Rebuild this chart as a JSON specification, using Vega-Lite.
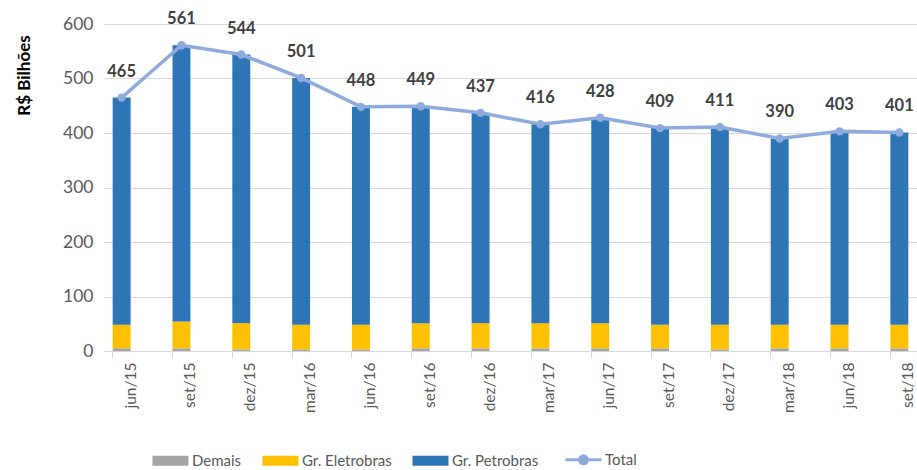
{
  "$schema": "https://vega.github.io/schema/vega-lite/v6.json",
  "width": 813,
  "height": 327,
  "autosize": {"type": "none"},
  "padding": {"left": 104, "top": 24, "right": 0, "bottom": 119},
  "config": {
    "view": {"stroke": null},
    "font": "Lato",
    "axis": {"labelFont": "Lato", "titleFont": "Lato"}
  },
  "datasets": {
    "barras": [
      {"mes": "jun/15", "serie": "Demais", "valor": 5},
      {"mes": "jun/15", "serie": "Gr. Eletrobras", "valor": 43},
      {"mes": "jun/15", "serie": "Gr. Petrobras", "valor": 417},
      {"mes": "set/15", "serie": "Demais", "valor": 5},
      {"mes": "set/15", "serie": "Gr. Eletrobras", "valor": 49},
      {"mes": "set/15", "serie": "Gr. Petrobras", "valor": 507},
      {"mes": "dez/15", "serie": "Demais", "valor": 3},
      {"mes": "dez/15", "serie": "Gr. Eletrobras", "valor": 48},
      {"mes": "dez/15", "serie": "Gr. Petrobras", "valor": 493},
      {"mes": "mar/16", "serie": "Demais", "valor": 3},
      {"mes": "mar/16", "serie": "Gr. Eletrobras", "valor": 45},
      {"mes": "mar/16", "serie": "Gr. Petrobras", "valor": 453},
      {"mes": "jun/16", "serie": "Demais", "valor": 3},
      {"mes": "jun/16", "serie": "Gr. Eletrobras", "valor": 45},
      {"mes": "jun/16", "serie": "Gr. Petrobras", "valor": 400},
      {"mes": "set/16", "serie": "Demais", "valor": 5},
      {"mes": "set/16", "serie": "Gr. Eletrobras", "valor": 46},
      {"mes": "set/16", "serie": "Gr. Petrobras", "valor": 398},
      {"mes": "dez/16", "serie": "Demais", "valor": 5},
      {"mes": "dez/16", "serie": "Gr. Eletrobras", "valor": 46},
      {"mes": "dez/16", "serie": "Gr. Petrobras", "valor": 386},
      {"mes": "mar/17", "serie": "Demais", "valor": 5},
      {"mes": "mar/17", "serie": "Gr. Eletrobras", "valor": 46},
      {"mes": "mar/17", "serie": "Gr. Petrobras", "valor": 365},
      {"mes": "jun/17", "serie": "Demais", "valor": 5},
      {"mes": "jun/17", "serie": "Gr. Eletrobras", "valor": 46},
      {"mes": "jun/17", "serie": "Gr. Petrobras", "valor": 377},
      {"mes": "set/17", "serie": "Demais", "valor": 5},
      {"mes": "set/17", "serie": "Gr. Eletrobras", "valor": 43},
      {"mes": "set/17", "serie": "Gr. Petrobras", "valor": 361},
      {"mes": "dez/17", "serie": "Demais", "valor": 3},
      {"mes": "dez/17", "serie": "Gr. Eletrobras", "valor": 45},
      {"mes": "dez/17", "serie": "Gr. Petrobras", "valor": 363},
      {"mes": "mar/18", "serie": "Demais", "valor": 5},
      {"mes": "mar/18", "serie": "Gr. Eletrobras", "valor": 43},
      {"mes": "mar/18", "serie": "Gr. Petrobras", "valor": 342},
      {"mes": "jun/18", "serie": "Demais", "valor": 5},
      {"mes": "jun/18", "serie": "Gr. Eletrobras", "valor": 43},
      {"mes": "jun/18", "serie": "Gr. Petrobras", "valor": 355},
      {"mes": "set/18", "serie": "Demais", "valor": 5},
      {"mes": "set/18", "serie": "Gr. Eletrobras", "valor": 43},
      {"mes": "set/18", "serie": "Gr. Petrobras", "valor": 353}
    ],
    "totais": [
      {"mes": "jun/15", "serie": "Total", "valor": 465},
      {"mes": "set/15", "serie": "Total", "valor": 561},
      {"mes": "dez/15", "serie": "Total", "valor": 544},
      {"mes": "mar/16", "serie": "Total", "valor": 501},
      {"mes": "jun/16", "serie": "Total", "valor": 448},
      {"mes": "set/16", "serie": "Total", "valor": 449},
      {"mes": "dez/16", "serie": "Total", "valor": 437},
      {"mes": "mar/17", "serie": "Total", "valor": 416},
      {"mes": "jun/17", "serie": "Total", "valor": 428},
      {"mes": "set/17", "serie": "Total", "valor": 409},
      {"mes": "dez/17", "serie": "Total", "valor": 411},
      {"mes": "mar/18", "serie": "Total", "valor": 390},
      {"mes": "jun/18", "serie": "Total", "valor": 403},
      {"mes": "set/18", "serie": "Total", "valor": 401}
    ]
  },
  "encoding": {
    "x": {
      "field": "mes", "type": "nominal", "sort": null,
      "scale": {"paddingInner": 0.7, "paddingOuter": 0.145},
      "axis": {
        "title": null, "labelAngle": -90, "labelFontSize": 15.5, "labelColor": "#595959",
        "domainColor": "#d9d9d9", "tickColor": "#d9d9d9", "tickSize": 7,
        "bandPosition": 0, "labelOffset": 9, "labelPadding": 4, "grid": false
      }
    },
    "y": {
      "field": "valor", "type": "quantitative",
      "scale": {"domain": [0, 600]},
      "axis": {
        "title": "R$ Bilhões", "titleFontSize": 17, "titleFontWeight": "bold", "titleColor": "#000000",
        "titleX": -80, "titleY": 51, "titleAngle": -90, "titleAlign": "center", "titleBaseline": "middle",
        "values": [0, 100, 200, 300, 400, 500, 600],
        "labelFontSize": 17.5, "labelColor": "#595959", "labelPadding": 11,
        "domain": false, "ticks": false, "gridColor": "#d9d9d9"
      }
    },
    "color": {
      "field": "serie", "type": "nominal",
      "scale": {
        "domain": ["Demais", "Gr. Eletrobras", "Gr. Petrobras", "Total"],
        "range": ["#a5a5a5", "#ffc000", "#2e75b6", "#8faadc"]
      },
      "legend": {
        "orient": "none", "legendX": 48, "legendY": 428, "direction": "horizontal", "title": null,
        "symbolSize": 1296, "labelFontSize": 15, "labelColor": "#595959", "labelFont": "Lato",
        "labelOffset": 25, "columnPadding": 20,
        "encode": {
          "symbols": {
            "update": {
              "shape": {"signal": "datum.value === 'Total' ? 'M-0.39,0H1.61M0.83,0A0.22,0.22,0,1,1,0.39,0A0.22,0.22,0,1,1,0.83,0Z' : 'M-0.39,-0.28H1.61V0.28H-0.39Z'"},
              "fill": {"scale": "color", "field": "value"},
              "stroke": {"scale": "color", "field": "value"},
              "strokeWidth": {"signal": "datum.value === 'Total' ? 3 : 0"},
              "opacity": {"value": 1}
            }
          }
        }
      }
    }
  },
  "layer": [
    {
      "data": {"name": "barras"},
      "mark": {"type": "bar"},
      "encoding": {
        "y": {"field": "valor", "type": "quantitative", "aggregate": "sum", "stack": "zero"},
        "order": {"field": "serie", "type": "nominal", "sort": "ascending"}
      }
    },
    {
      "data": {"name": "totais"},
      "mark": {"type": "line", "strokeWidth": 3.5, "point": {"filled": true, "size": 70}},
      "encoding": {}
    },
    {
      "data": {"name": "totais"},
      "mark": {"type": "text", "dy": -26, "fontSize": 16.5, "fontWeight": "bold", "color": "#404040", "baseline": "middle"},
      "encoding": {
        "text": {"field": "valor", "type": "quantitative"},
        "color": {"value": "#404040"}
      }
    }
  ]
}
